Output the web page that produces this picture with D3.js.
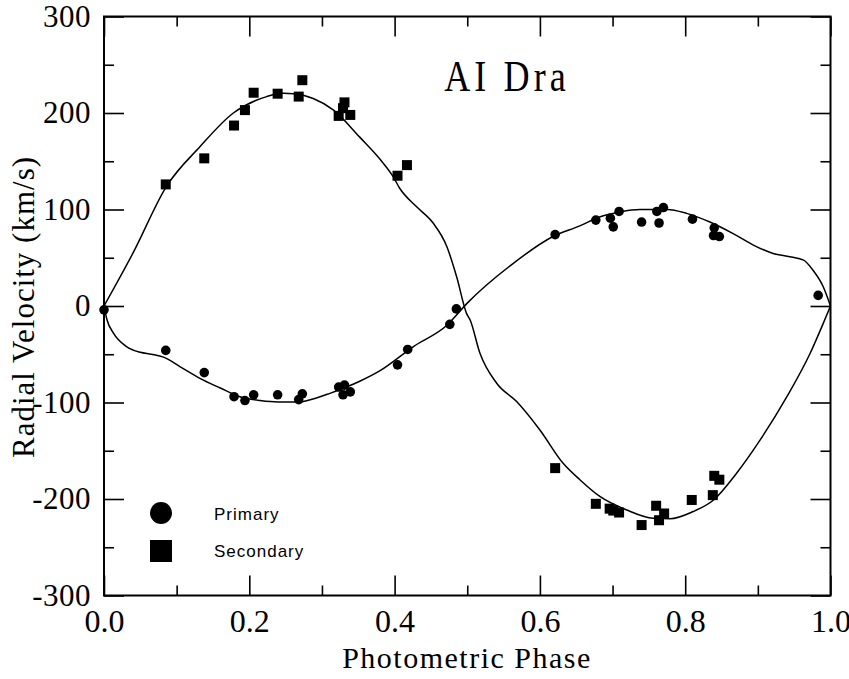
<!DOCTYPE html>
<html>
<head>
<meta charset="utf-8">
<script src="https://cdn.jsdelivr.net/npm/d3@7"></script>
<style>
  body { margin: 0; background: #fff; }
  svg { display: block; }
</style>
</head>
<body>
<svg id="chart" width="849" height="679"></svg>
<script>
// observed radial velocities: [phase, km/s]
var primaryPoints = [
  [0.0, -4], [0.085, -46], [0.138, -69], [0.179, -94], [0.194, -98], [0.206, -92],
  [0.239, -92], [0.268, -97], [0.273, -91], [0.323, -84], [0.331, -82], [0.329, -92],
  [0.339, -89], [0.404, -61], [0.418, -45], [0.476, -19], [0.485, -3], [0.621, 74],
  [0.677, 89], [0.697, 91], [0.701, 82], [0.709, 98], [0.740, 87], [0.761, 98],
  [0.764, 86], [0.770, 102], [0.810, 90], [0.840, 81], [0.839, 73], [0.847, 72],
  [0.983, 11]
];
var secondaryPoints = [
  [0.085, 126], [0.138, 153], [0.179, 187], [0.194, 203], [0.206, 221], [0.239, 220],
  [0.268, 217], [0.273, 234], [0.323, 197], [0.331, 211], [0.329, 205], [0.339, 198],
  [0.404, 135], [0.417, 146], [0.621, -168], [0.677, -205], [0.696, -210], [0.701, -212],
  [0.709, -214], [0.740, -227], [0.760, -207], [0.764, -222], [0.771, -215], [0.809, -201],
  [0.838, -196], [0.840, -176], [0.847, -180]
];

// model curves
var primaryCurve = [
  [0, 0], [0.004, -14], [0.013, -28], [0.031, -42], [0.05, -48], [0.065, -50],
  [0.082, -53], [0.105, -63], [0.132, -75], [0.16, -85], [0.187, -94], [0.215, -98],
  [0.24, -99.5], [0.27, -99.5], [0.28, -98], [0.311, -90.5], [0.352, -78], [0.38, -67],
  [0.426, -42], [0.472, -20], [0.5, 3], [0.563, 44], [0.618, 72], [0.655, 83],
  [0.683, 92.5], [0.71, 97.5], [0.738, 100], [0.775, 100], [0.802, 96], [0.834, 87],
  [0.866, 75], [0.898, 61.5], [0.921, 54.5], [0.944, 51], [0.963, 47.5], [0.976, 37],
  [0.99, 20], [1.0, 0]
];
var secondaryCurve = [
  [0, 0], [0.04, 55], [0.086, 124], [0.132, 165], [0.178, 200], [0.224, 217],
  [0.247, 220.4], [0.261, 220], [0.288, 215], [0.316, 203], [0.352, 175], [0.38, 152],
  [0.398, 134], [0.407, 122], [0.43, 103], [0.453, 86], [0.472, 61.5], [0.4855, 30],
  [0.499, -7.6], [0.504, -14.5], [0.5175, -49], [0.5405, -80], [0.568, -99], [0.60, -128.5],
  [0.632, -163], [0.655, -180], [0.683, -197.6], [0.7195, -211.4], [0.756, -220],
  [0.779, -220.5], [0.811, -213], [0.839, -201], [0.871, -173], [0.903, -139],
  [0.94, -94], [0.972, -49], [0.99, -18], [1.0, 0]
];

var xMajor = [0, 0.2, 0.4, 0.6, 0.8, 1.0];
var xMinor = [0.1, 0.3, 0.5, 0.7, 0.9];
var yMajor = [-300, -200, -100, 0, 100, 200, 300];
var yMinor = [-250, -150, -50, 50, 150, 250];

var legendItems = ["Primary", "Secondary"];

var svg = d3.select("#chart");
var margin = { top: 16.5, left: 104 };
var width = 726.5;
var height = 579;
var serif = "Liberation Serif, Times New Roman, serif";

var x = d3.scaleLinear().domain([0, 1]).range([0, width]);
var y = d3.scaleLinear().domain([-300, 300]).range([height, 0]);

var g = svg.append("g").attr("transform", `translate(${margin.left},${margin.top})`);

// axes, ticks pointing inward
function styleAxis(sel) {
  sel.select(".domain").remove();
  sel.selectAll("line").attr("stroke", "#000").attr("stroke-width", 1.6);
}

g.append("g").call(d3.axisLeft(y).tickValues(yMajor).tickSize(-20).tickPadding(13)
    .tickFormat((d) => String(d)))   // plain hyphen minus like the original
  .call(styleAxis)
  .selectAll("text")
  .attr("font-family", serif)
  .attr("font-size", 31).attr("letter-spacing", 0.5).attr("fill", "#000");
g.append("g").call(d3.axisLeft(y).tickValues(yMinor).tickSize(-10).tickFormat(""))
  .call(styleAxis);
g.append("g").attr("transform", `translate(${width},0)`)
  .call(d3.axisRight(y).tickValues(yMajor).tickSize(-20).tickFormat(""))
  .call(styleAxis);
g.append("g").attr("transform", `translate(${width},0)`)
  .call(d3.axisRight(y).tickValues(yMinor).tickSize(-10).tickFormat(""))
  .call(styleAxis);

g.append("g").attr("transform", `translate(0,${height})`)
  .call(d3.axisBottom(x).tickValues(xMajor).tickSize(-20).tickPadding(14)
    .tickFormat(d3.format(".1f")))
  .call(styleAxis)
  .selectAll("text")
  .attr("font-family", serif)
  .attr("font-size", 32).attr("fill", "#000");
g.append("g").attr("transform", `translate(0,${height})`)
  .call(d3.axisBottom(x).tickValues(xMinor).tickSize(-10).tickFormat(""))
  .call(styleAxis);
g.append("g")
  .call(d3.axisTop(x).tickValues(xMajor).tickSize(-20).tickFormat(""))
  .call(styleAxis);
g.append("g")
  .call(d3.axisTop(x).tickValues(xMinor).tickSize(-10).tickFormat(""))
  .call(styleAxis);

// frame
g.append("rect")
  .attr("width", width).attr("height", height)
  .attr("fill", "none").attr("stroke", "#000").attr("stroke-width", 2);

// model curves
var line = d3.line()
  .x((d) => x(d[0]))
  .y((d) => y(d[1]))
  .curve(d3.curveMonotoneX);

[primaryCurve, secondaryCurve].forEach((c) => {
  g.append("path").datum(c)
    .attr("d", line)
    .attr("fill", "none")
    .attr("stroke", "#000")
    .attr("stroke-width", 1.5);
});

// observations
g.append("g").selectAll("circle")
  .data(primaryPoints)
  .join("circle")
  .attr("cx", (d) => x(d[0]))
  .attr("cy", (d) => y(d[1]))
  .attr("r", 4.8)
  .attr("fill", "#000");

var sq = 10;
g.append("g").selectAll("rect")
  .data(secondaryPoints)
  .join("rect")
  .attr("x", (d) => x(d[0]) - sq / 2)
  .attr("y", (d) => y(d[1]) - sq / 2)
  .attr("width", sq)
  .attr("height", sq)
  .attr("fill", "#000");

// title (narrow, spaced letters)
svg.append("text")
  .attr("transform", "translate(507,91) scale(0.82,1)")
  .attr("text-anchor", "middle")
  .attr("font-family", serif)
  .attr("font-size", 44)
  .attr("letter-spacing", 5)
  .text("AI Dra");

// axis titles
svg.append("text")
  .attr("x", 467).attr("y", 668)
  .attr("text-anchor", "middle")
  .attr("font-family", serif)
  .attr("font-size", 30)
  .attr("letter-spacing", 1.5)
  .text("Photometric Phase");

svg.append("text")
  .attr("transform", "translate(34,307) rotate(-90)")
  .attr("text-anchor", "middle")
  .attr("font-family", serif)
  .attr("font-size", 31)
  .attr("letter-spacing", 1)
  .text("Radial Velocity (km/s)");

// legend
var legend = svg.append("g");
legend.append("circle").attr("cx", 161).attr("cy", 513).attr("r", 11).attr("fill", "#000");
legend.append("rect").attr("x", 150).attr("y", 540).attr("width", 22).attr("height", 22).attr("fill", "#000");
legend.selectAll("text")
  .data(legendItems)
  .join("text")
  .attr("x", 214)
  .attr("y", (d, i) => 520 + i * 37)
  .attr("font-family", "Liberation Sans, Arial, sans-serif")
  .attr("font-size", 17)
  .attr("letter-spacing", 1)
  .text((d) => d);
</script>
</body>
</html>
